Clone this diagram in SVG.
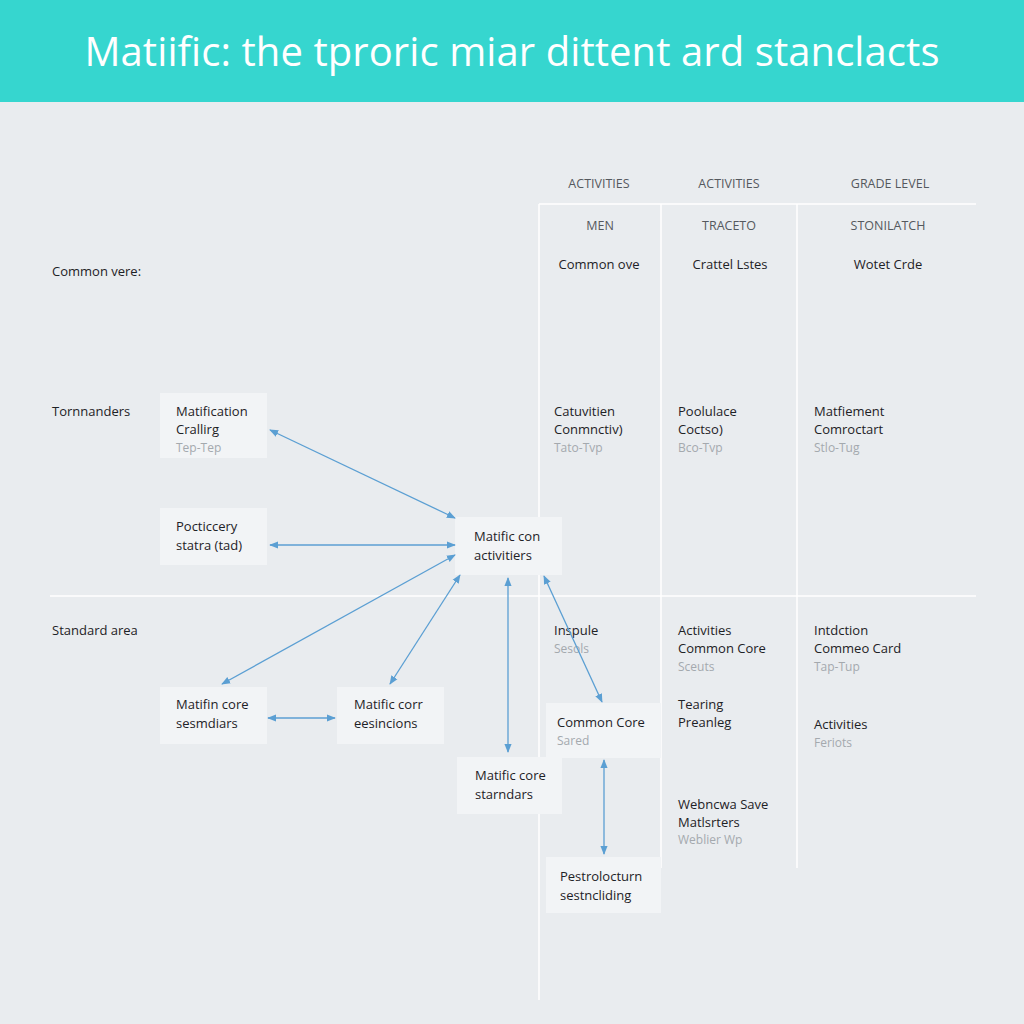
<svg xmlns="http://www.w3.org/2000/svg" width="1024" height="1024" viewBox="0 0 1024 1024">
<style>
text{font-family:"Open Sans","Liberation Sans",sans-serif;fill:#1e2226}
.t{font-size:13px}
.s{font-size:12px;fill:#a4a9ae}
.h{font-size:12.5px;fill:#55595e}
.n{fill:#f2f4f6}
.g{stroke:#ffffff;stroke-width:1.5}
.c{stroke:#5b9fd3;stroke-width:1.3;fill:none;marker-start:url(#a);marker-end:url(#a)}
</style>
<defs><marker id="a" viewBox="0 0 10 10" refX="9" refY="5" markerWidth="9" markerHeight="9" orient="auto-start-reverse" markerUnits="userSpaceOnUse"><path d="M0,1 L10,5 L0,9 Z" fill="#5b9fd3"/></marker></defs>
<rect width="1024" height="1024" fill="#e9ecef"/>
<rect width="1024" height="102" fill="#36d6cf"/>
<text x="512" y="66" text-anchor="middle" style="font-size:40px;fill:#ffffff" textLength="855">Matiific: the tproric miar dittent ard stanclacts</text>
<g id="grid">
<line class="g" x1="539" y1="204" x2="539" y2="1000"/>
<line class="g" x1="661" y1="204" x2="661" y2="868"/>
<line class="g" x1="797" y1="204" x2="797" y2="868"/>
<line class="g" x1="539" y1="204" x2="976" y2="204"/>
<line class="g" x1="50" y1="596" x2="976" y2="596"/>
</g>
<g id="headers">
<text class="h" x="599" y="188" text-anchor="middle">ACTIVITIES</text>
<text class="h" x="729" y="188" text-anchor="middle">ACTIVITIES</text>
<text class="h" x="890" y="188" text-anchor="middle">GRADE LEVEL</text>
<text class="h" x="600" y="230" text-anchor="middle">MEN</text>
<text class="h" x="729" y="230" text-anchor="middle">TRACETO</text>
<text class="h" x="888" y="230" text-anchor="middle">STONILATCH</text>
<text class="t" x="599" y="269" text-anchor="middle">Common ove</text>
<text class="t" x="730" y="269" text-anchor="middle">Crattel Lstes</text>
<text class="t" x="888" y="269" text-anchor="middle">Wotet Crde</text>
</g>
<g id="rows">
<text class="t" x="52" y="276">Common vere:</text>
<text class="t" x="52" y="416">Tornnanders</text>
<text class="t" x="52" y="635">Standard area</text>
</g>
<g id="cells">
<text class="t" x="554" y="416">Catuvitien</text><text class="t" x="554" y="434">Conmnctiv)</text><text class="s" x="554" y="452">Tato-Tvp</text>
<text class="t" x="678" y="416">Poolulace</text><text class="t" x="678" y="434">Coctso)</text><text class="s" x="678" y="452">Bco-Tvp</text>
<text class="t" x="814" y="416">Matfiement</text><text class="t" x="814" y="434">Comroctart</text><text class="s" x="814" y="452">Stlo-Tug</text>
<text class="t" x="554" y="635">Inspule</text><text class="s" x="554" y="653">Sesols</text>
<text class="t" x="678" y="635">Activities</text><text class="t" x="678" y="653">Common Core</text><text class="s" x="678" y="671">Sceuts</text>
<text class="t" x="678" y="709">Tearing</text><text class="t" x="678" y="727">Preanleg</text>
<text class="t" x="678" y="809">Webncwa Save</text><text class="t" x="678" y="827">Matlsrters</text><text class="s" x="678" y="844">Weblier Wp</text>
<text class="t" x="814" y="635">Intdction</text><text class="t" x="814" y="653">Commeo Card</text><text class="s" x="814" y="671">Tap-Tup</text>
<text class="t" x="814" y="729">Activities</text><text class="s" x="814" y="747">Feriots</text>
</g>
<g id="n1"><rect class="n" x="160" y="393" width="107" height="65"/><text class="t" x="176" y="416">Matification</text><text class="t" x="176" y="434">Crallirg</text><text class="s" x="176" y="452">Tep-Tep</text></g>
<g id="n2"><rect class="n" x="160" y="508" width="107" height="57"/><text class="t" x="176" y="531">Pocticcery</text><text class="t" x="176" y="550">statra (tad)</text></g>
<g id="n3"><rect class="n" x="455" y="517" width="107" height="58"/><text class="t" x="474" y="541">Matific con</text><text class="t" x="474" y="560">activitiers</text></g>
<g id="n4"><rect class="n" x="160" y="687" width="107" height="57"/><text class="t" x="176" y="709">Matifin core</text><text class="t" x="176" y="728">sesmdiars</text></g>
<g id="n5"><rect class="n" x="337" y="687" width="107" height="57"/><text class="t" x="354" y="709">Matific corr</text><text class="t" x="354" y="728">eesincions</text></g>
<g id="n6"><rect class="n" x="457" y="757" width="105" height="57"/><text class="t" x="475" y="780">Matific core</text><text class="t" x="475" y="799">starndars</text></g>
<g id="n7"><rect class="n" x="546" y="703" width="115" height="55"/><text class="t" x="557" y="727">Common Core</text><text class="s" x="557" y="745">Sared</text></g>
<g id="n8"><rect class="n" x="546" y="857" width="115" height="56"/><text class="t" x="560" y="881">Pestrolocturn</text><text class="t" x="560" y="900">sestncliding</text></g>
<g id="connectors">
<line class="c" x1="270" y1="430" x2="455" y2="518"/>
<line class="c" x1="270" y1="545" x2="455" y2="545"/>
<line class="c" x1="222" y1="684" x2="455" y2="555"/>
<line class="c" x1="390" y1="684" x2="460" y2="575"/>
<line class="c" x1="268" y1="718" x2="335" y2="718"/>
<line class="c" x1="508" y1="578" x2="508" y2="752"/>
<line class="c" x1="544" y1="576" x2="602" y2="702"/>
<line class="c" x1="604" y1="760" x2="604" y2="854"/>
</g>
</svg>
